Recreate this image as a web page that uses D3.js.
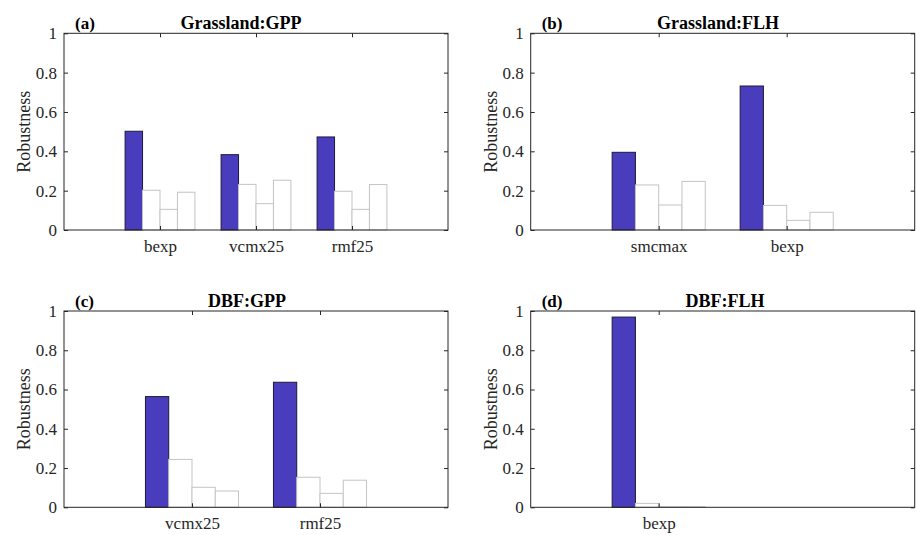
<!DOCTYPE html>
<html>
<head>
<meta charset="utf-8">
<script src="https://cdn.jsdelivr.net/npm/d3@7"></script>
<style>
  body { margin: 0; background: #fff; }
</style>
</head>
<body>
<div id="chart"></div>
<script>
// panel data: categories and the four robustness values per category
const catsA = ["bexp", "vcmx25", "rmf25"]
const valsA = [[0.502, 0.202, 0.105, 0.192], [0.383, 0.232, 0.134, 0.253], [0.473, 0.197, 0.105, 0.231]]

const catsB = ["smcmax", "bexp"]
const valsB = [[0.395, 0.229, 0.127, 0.247], [0.732, 0.125, 0.049, 0.090]]

const catsC = ["vcmx25", "rmf25"]
const valsC = [[0.564, 0.244, 0.102, 0.083], [0.637, 0.153, 0.071, 0.138]]

const catsD = ["bexp", ""]
const valsD = [[0.969, 0.020, 0.003, 0.003], [0.0, 0.0, 0.0, 0.0]]

const letters = ["(a)", "(b)", "(c)", "(d)"]
const titles = ["Grassland:GPP", "Grassland:FLH", "DBF:GPP", "DBF:FLH"]
const yTicks = [0, 0.2, 0.4, 0.6, 0.8, 1]

const width = 916, height = 535
const axisColor = "#262626"
const serif = '"Liberation Serif", "Times New Roman", serif'

const svg = d3.select("#chart").append("svg")
    .attr("width", width)
    .attr("height", height)

// layout of the four axes boxes
const panels = [
    { cats: catsA, vals: valsA, x0: 64, x1: 448, y0: 33.3, y1: 230, titleX: 241 },
    { cats: catsB, vals: valsB, x0: 530.7, x1: 914.7, y0: 33.3, y1: 230, titleX: 718 },
    { cats: catsC, vals: valsC, x0: 64, x1: 448, y0: 311, y1: 507.3, titleX: 247 },
    { cats: catsD, vals: valsD, x0: 530.7, x1: 914.7, y0: 311, y1: 507.3, titleX: 725 }
]

const drawPanel = (p, idx) => {
    const n = p.cats.length
    const nb = p.vals[0].length
    const groupW = nb / (nb + 1.5)
    const barW = groupW / nb

    const x = d3.scaleLinear().domain([0, n + 1]).range([p.x0, p.x1])
    const y = d3.scaleLinear().domain([0, 1]).range([p.y1, p.y0])

    const g = svg.append("g")

    // bars
    const bars = []
    p.vals.forEach((row, i) => {
        row.forEach((v, j) => {
            bars.push({ pos: i + 1 - groupW / 2 + j * barW, v: v, j: j })
        })
    })
    g.append("g").selectAll("rect")
        .data(bars)
        .enter().append("rect")
        .attr("x", d => x(d.pos))
        .attr("y", d => y(d.v))
        .attr("width", d => x(d.pos + barW) - x(d.pos))
        .attr("height", d => y(0) - y(d.v))
        .attr("fill", d => d.j === 0 ? "#4a3dbd" : "#ffffff")
        .attr("stroke", d => d.j === 0 ? "#1c1a3a" : "#c4c4c4")
        .attr("stroke-width", 1)

    // tick positions: only labelled categories
    const xt = p.cats.map((c, i) => i + 1).filter((d, i) => p.cats[i] !== "")

    const yl = g.append("g").attr("transform", `translate(${p.x0},0)`)
        .call(d3.axisLeft(y).tickValues(yTicks).tickSizeInner(-4).tickSizeOuter(0).tickPadding(7)
            .tickFormat(d => d === 0 || d === 1 ? String(d) : d3.format(".1f")(d)))
    const yr = g.append("g").attr("transform", `translate(${p.x1},0)`)
        .call(d3.axisRight(y).tickValues(yTicks).tickSizeInner(-4).tickSizeOuter(0).tickFormat(""))
    const xb = g.append("g").attr("transform", `translate(0,${p.y1})`)
        .call(d3.axisBottom(x).tickValues(xt).tickSizeInner(-4).tickSizeOuter(0).tickPadding(10)
            .tickFormat(d => p.cats[d - 1]))
    const xtp = g.append("g").attr("transform", `translate(0,${p.y0})`)
        .call(d3.axisTop(x).tickValues(xt).tickSizeInner(-4).tickSizeOuter(0).tickFormat(""))

    ;[yl, yr, xb, xtp].forEach(a => {
        a.select(".domain").remove()
        a.selectAll("line").attr("stroke", axisColor)
        a.selectAll("text").attr("fill", axisColor)
            .style("font-size", "17px").style("font-family", serif)
    })

    // box
    g.append("rect")
        .attr("x", p.x0).attr("y", p.y0)
        .attr("width", p.x1 - p.x0).attr("height", p.y1 - p.y0)
        .attr("fill", "none").attr("stroke", axisColor).attr("stroke-width", 1)

    // y label
    g.append("text")
        .attr("transform", `translate(${p.x0 - 34},${(p.y0 + p.y1) / 2}) rotate(-90)`)
        .attr("text-anchor", "middle")
        .style("font-size", "18px").style("font-family", serif)
        .attr("fill", axisColor)
        .text("Robustness")

    // panel letter and title
    g.append("text")
        .attr("x", p.x0 + 11).attr("y", p.y0 - 4)
        .style("font-size", "17px").style("font-weight", "bold").style("font-family", serif)
        .attr("fill", "#000")
        .text(letters[idx])
    g.append("text")
        .attr("x", p.titleX).attr("y", p.y0 - 4)
        .attr("text-anchor", "middle")
        .style("font-size", "18px").style("font-weight", "bold").style("font-family", serif)
        .attr("fill", "#000")
        .text(titles[idx])
}

panels.forEach(drawPanel)
</script>
</body>
</html>
